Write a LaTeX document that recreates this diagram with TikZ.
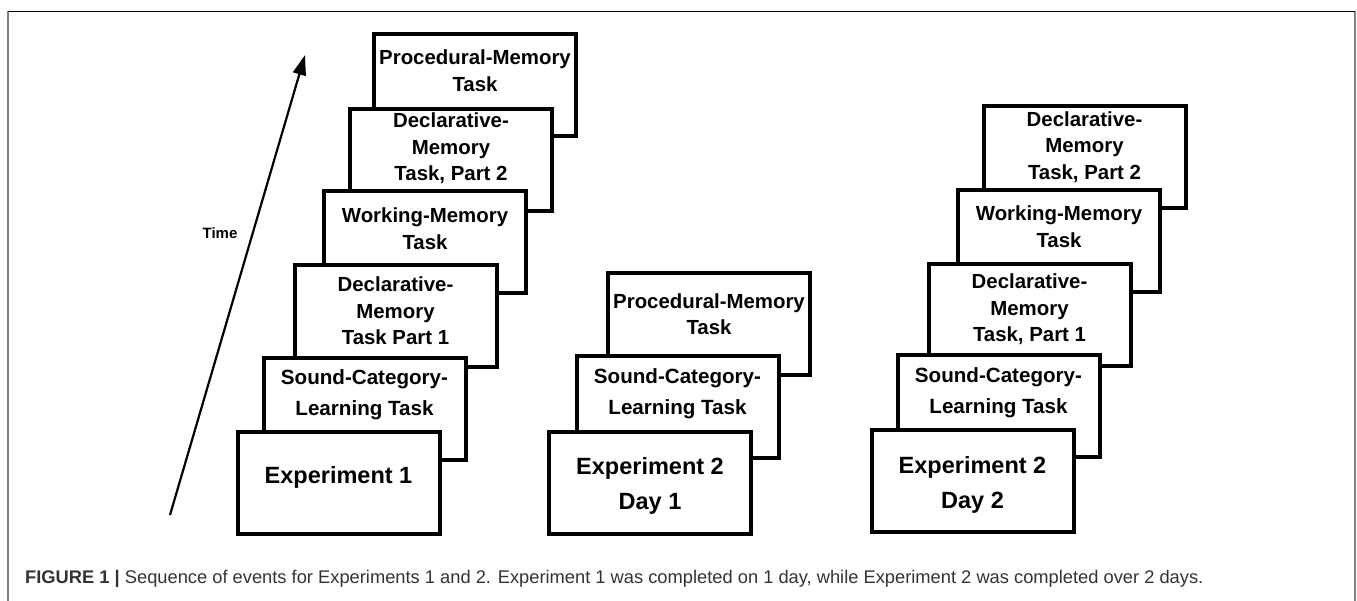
\documentclass[tikz,border=0pt]{standalone}
\usepackage{fontspec}
\setmainfont{Liberation Sans}
\usetikzlibrary{arrows.meta}
\usetikzlibrary{positioning}

\begin{document}
\begin{tikzpicture}[x=1pt,y=-1pt,
	taskbox/.style={draw,line width=4pt,fill=white,minimum width=202pt,minimum height=102pt,inner sep=0pt},
	tasktext/.style={align=center,inner sep=0pt,font=\fontsize{20.4}{26.5}\selectfont\bfseries},
	soundtext/.style={tasktext,font=\fontsize{20.6}{31}\selectfont\bfseries},
	exptext/.style={align=center,inner sep=0pt,font=\fontsize{23.5}{35}\selectfont\bfseries}]

	\useasboundingbox (0,0) rectangle (1357,600);

	% frame
	\draw[black!50,line width=1.3pt] (8,610) -- (8,11);
	\draw[black!50,line width=1.3pt] (1355,610) -- (1355,11);
	\draw[black,line width=1pt] (8,11) -- (1355,11);

	% time arrow
	\coordinate (tfoot) at (170,515);
	\coordinate (thead) at (305,55);
	\draw[line width=2.2pt,-{Triangle[length=20pt,width=13pt]}] (tfoot) -- (thead);
	\node[font=\fontsize{15}{18}\selectfont\bfseries] (timelbl) at (220,233) {Time};

	% experiment 1
	\node[taskbox] (e1proc) at (475,84.5) {};
	\node[tasktext] (e1proct) at (475,70.5) {Procedural-Memory\\Task};
	\node[taskbox] (e1dec2) at (451,159.5) {};
	\node[tasktext] (e1dec2t) at (451,148.5) {Declarative-\\Memory\\Task, Part 2};
	\node[taskbox] (e1wm) at (425,242) {};
	\node[tasktext] (e1wmt) at (425,228.5) {Working-Memory\\Task};
	\node[taskbox] (e1dec1) at (395.5,315.5) {};
	\node[tasktext] (e1dec1t) at (395.5,311) {Declarative-\\Memory\\Task Part 1};
	\node[taskbox] (e1snd) at (364.5,409) {};
	\node[soundtext] (e1sndt) at (364.5,394.5) {Sound-Category-\\Learning Task};
	\node[taskbox] (e1exp) at (338.5,483) {};
	\node[exptext] (e1expt) at (338.5,477) {Experiment 1};

	% experiment 2, day 1
	\node[taskbox] (d1proc) at (709,324) {};
	\node[tasktext] (d1proct) at (709,314) {Procedural-Memory\\Task};
	\node[taskbox] (d1snd) at (677.5,406.5) {};
	\node[soundtext] (d1sndt) at (677.5,394) {Sound-Category-\\Learning Task};
	\node[taskbox] (d1exp) at (650,482.5) {};
	\node[exptext] (d1expt) at (650,485.5) {Experiment 2\\Day 1};

	% experiment 2, day 2
	\node[taskbox] (d2dec2) at (1084.5,157) {};
	\node[tasktext] (d2dec2t) at (1084.5,147) {Declarative-\\Memory\\Task, Part 2};
	\node[taskbox] (d2wm) at (1059,240.5) {};
	\node[tasktext] (d2wmt) at (1059,226.5) {Working-Memory\\Task};
	\node[taskbox] (d2dec1) at (1029.5,314.5) {};
	\node[tasktext] (d2dec1t) at (1029.5,309.5) {Declarative-\\Memory\\Task, Part 1};
	\node[taskbox] (d2snd) at (998.5,406) {};
	\node[soundtext] (d2sndt) at (998.5,392.5) {Sound-Category-\\Learning Task};
	\node[taskbox] (d2exp) at (972.5,480.5) {};
	\node[exptext] (d2expt) at (972.5,484.5) {Experiment 2\\Day 2};

	% caption
	\node[anchor=base west,inner sep=0pt,text=black!80,font=\fontsize{18.3}{22}\selectfont] (caption) at (25,583)
	{\textbf{FIGURE 1 |} Sequence of events for Experiments 1 and 2. Experiment 1 was completed on 1 day, while Experiment 2 was completed over 2 days.};

\end{tikzpicture}
\end{document}
